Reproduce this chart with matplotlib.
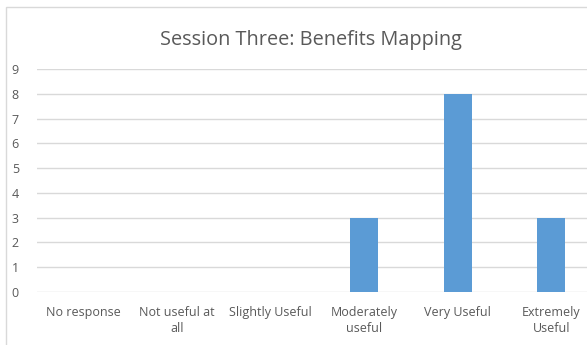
#!/usr/bin/env python3

import matplotlib
matplotlib.use('Agg')
import matplotlib.pyplot as plt
from matplotlib.patches import Rectangle
import numpy as np


# Data.
categories = ['No response', 'Not useful at\nall', 'Slightly Useful',
              'Moderately\nuseful', 'Very Useful', 'Extremely\nUseful']
counts = [0, 0, 0, 3, 8, 3]
yticks = list(range(0, 10))

title = 'Session Three: Benefits Mapping'

bar_color = '#5b9bd5'
grid_color = '#d9d9d9'
text_color = '#595959'

plt.rcParams['font.family'] = ['Open Sans', 'DejaVu Sans']

W, H = 587, 345
fig = plt.figure(figsize=(W / 100, H / 100), dpi=100, facecolor='white')

# Chart frame; the reference is cropped on the right and bottom.
fig.patches.append(Rectangle((6 / W, -0.1), 1.2, (H - 7) / H + 0.1,
                             transform=fig.transFigure, fill=False,
                             edgecolor=grid_color, linewidth=1.0))

# Plot area: left edge at x=37px, y=0 at 292px, y=9 at 69px.
left, right = 37 / W, 598 / W
bottom, top = (H - 292) / H, (H - 69) / H
ax = fig.add_axes((left, bottom, right - left, top - bottom))

x = np.arange(len(categories))
ax.bar(x, counts, width=0.3, color=bar_color, zorder=3)

ax.set_xlim(-0.5, len(categories) - 0.5)
ax.set_ylim(0, 9)
ax.set_yticks(yticks)
ax.set_xticks(x)
ax.set_xticklabels(categories, linespacing=1.3)
ax.grid(axis='y', color=grid_color, linewidth=1.0, zorder=0)
for s in ax.spines.values():
    s.set_visible(False)
ax.tick_params(axis='both', length=0, colors=text_color, labelsize=9)
ax.tick_params(axis='y', pad=13)
ax.tick_params(axis='x', pad=10)
ax.set_facecolor('none')

# The title is centred on the full (cropped) chart frame.
fig.text(311 / W, (H - 40) / H, title, ha='center', va='center',
         fontsize=14.3, color=text_color)

fig.savefig('out.png', dpi=100, facecolor='white')
